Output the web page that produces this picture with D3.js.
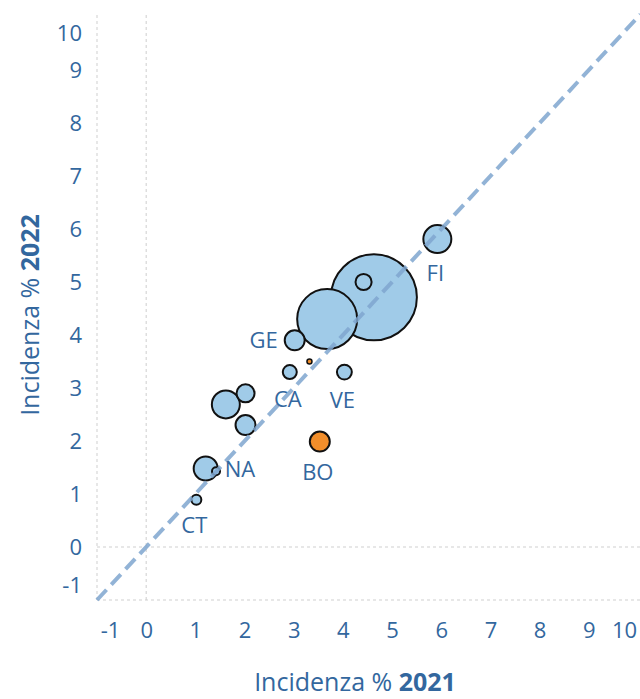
<!DOCTYPE html>
<html>
<head>
<meta charset="utf-8">
<script src="https://cdn.jsdelivr.net/npm/d3@7"></script>
<style>
  body { margin: 0; background: #fff; }
  svg { display: block; font-family: "Open Sans", "Noto Sans", sans-serif; }
</style>
</head>
<body>
<div id="chart"></div>
<script>
// incidenza 2021 (x), incidenza 2022 (y), peso (bubble size)
const provinces = ["FI", "", "", "GE", "", "CA", "VE", "", "", "", "BO", "NA", "", "CT"];
const inc2021 = [5.92, 4.63, 3.68, 3.02, 4.42, 2.92, 4.03, 2.02, 1.62, 2.02, 3.53, 1.21, 1.42, 1.02];
const inc2022 = [5.81, 4.71, 4.30, 3.90, 5.00, 3.30, 3.30, 2.90, 2.69, 2.30, 1.99, 1.48, 1.43, 0.89];
const peso    = [10.6, 100, 48.7, 5.4, 3.5, 2.65, 3.0, 4.4, 10.6, 5.4, 5.4, 7.8, 0.87, 1.35];
const outlier = [false, false, false, false, false, false, false, false, false, false, true, false, false, false];

// tiny orange point
const extraX = [3.32];
const extraY = [3.50];
const extraPeso = [0.34];

const labelSide = { FI: "below", GE: "left", CA: "below", VE: "below", BO: "below", NA: "right", CT: "below" };

const xTicks = [-1, 0, 1, 2, 3, 4, 5, 6, 7, 8, 9, 10];
const yTicks = [-1, 0, 1, 2, 3, 4, 5, 6, 7, 8, 9, 10];

const W = 640, H = 699;
const TEXT = "#33679e";
const BLUE = "#a0cbe8";
const ORANGE = "#f28e2b";

const svg = d3.select("#chart").append("svg").attr("width", W).attr("height", H);

const x = d3.scaleLinear().domain([-1, 10]).range([97, 638]);
const y = d3.scaleLinear().domain([-1, 10]).range([600, 17]);
const r = d3.scaleSqrt().domain([0, 100]).range([0, 43]);

// grid lines at the axis edges and zero
const grid = svg.append("g").attr("stroke", "#cfcfcf").attr("stroke-dasharray", "3,3").attr("stroke-width", 1);
[-1, 0].forEach(v => {
  grid.append("line").attr("x1", x(v)).attr("x2", x(v)).attr("y1", 15).attr("y2", y(-1));
  grid.append("line").attr("x1", x(-1)).attr("x2", W).attr("y1", y(v)).attr("y2", y(v));
});

// axes
const xAxis = svg.append("g")
  .attr("transform", `translate(0,${y(-1) + 16})`)
  .call(d3.axisBottom(x).tickValues(xTicks).tickSize(0).tickPadding(0).tickFormat(d => String(d)));
const yAxis = svg.append("g")
  .attr("transform", `translate(${x(-1) - 15},0)`)
  .call(d3.axisLeft(y).tickValues(yTicks).tickSize(0).tickPadding(0).tickFormat(d => String(d)));

[xAxis, yAxis].forEach(a => {
  a.select(".domain").remove();
  a.selectAll("text").attr("fill", TEXT).attr("font-size", 22).attr("font-family", "\"Open Sans\", sans-serif");
});
xAxis.selectAll("text").attr("dy", "0.98em");
yAxis.selectAll("text").attr("dy", "0.36em");
// end labels pulled inward
xAxis.selectAll(".tick text").attr("dx", d => d === -1 ? 13 : d === 10 ? -14 : 0);
yAxis.selectAll(".tick text").attr("y", d => d === -1 ? -15 : d === 10 ? 16 : 0);

// bubbles
const points = provinces.map((p, i) => ({
  name: p, x: inc2021[i], y: inc2022[i], size: peso[i], orange: outlier[i]
}));
extraX.forEach((v, i) => points.push({ name: "", x: v, y: extraY[i], size: extraPeso[i], orange: true }));
points.sort((a, b) => b.size - a.size);

svg.append("g").selectAll("circle")
  .data(points)
  .join("circle")
  .attr("cx", d => x(d.x))
  .attr("cy", d => y(d.y))
  .attr("r", d => r(d.size))
  .attr("fill", d => d.orange ? ORANGE : BLUE)
  .attr("stroke", "#111")
  .attr("stroke-width", d => r(d.size) < 4 ? 1.5 : 2);

// bisector y = x
svg.append("line")
  .attr("x1", x(-1)).attr("y1", y(-1))
  .attr("x2", x(10.05)).attr("y2", y(10.05))
  .attr("stroke", "#7fa6cf")
  .attr("stroke-opacity", 0.85)
  .attr("stroke-width", 4)
  .attr("stroke-dasharray", "14,7");

// province labels
svg.append("g").selectAll("text")
  .data(points.filter(d => d.name))
  .join("text")
  .attr("fill", TEXT)
  .attr("font-size", 22)
  .attr("x", d => {
    const side = labelSide[d.name];
    if (side === "left") return x(d.x) - r(d.size) - 7;
    if (side === "right") return x(d.x) + r(d.size) + 7;
    return x(d.x) - 2;
  })
  .attr("y", d => {
    const side = labelSide[d.name];
    if (side === "below") return y(d.y) + r(d.size) + 28;
    return y(d.y) + 8;
  })
  .attr("text-anchor", d => labelSide[d.name] === "left" ? "end" : labelSide[d.name] === "right" ? "start" : "middle")
  .text(d => d.name);

// axis titles
const xt = svg.append("text")
  .attr("x", 355).attr("y", 691)
  .attr("text-anchor", "middle")
  .attr("fill", TEXT).attr("font-size", 25);
xt.append("tspan").text("Incidenza % ");
xt.append("tspan").attr("font-weight", "bold").text("2021");

const yt = svg.append("text")
  .attr("transform", "translate(39,315) rotate(-90)")
  .attr("text-anchor", "middle")
  .attr("fill", TEXT).attr("font-size", 25);
yt.append("tspan").text("Incidenza % ");
yt.append("tspan").attr("font-weight", "bold").text("2022");
</script>
</body>
</html>
